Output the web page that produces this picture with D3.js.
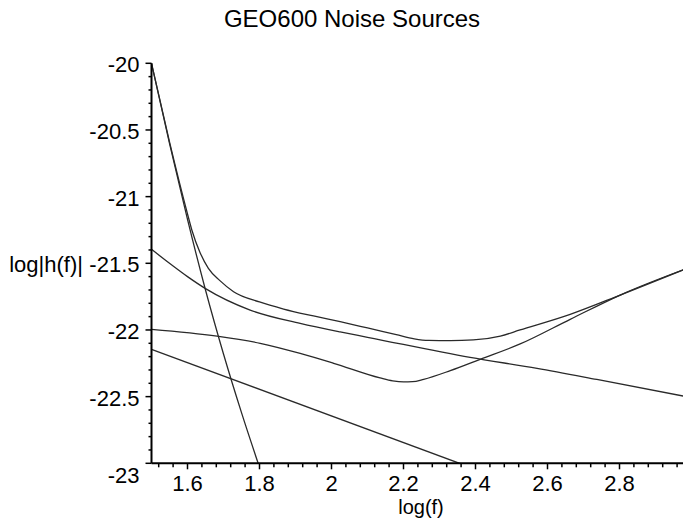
<!DOCTYPE html>
<html>
<head>
<meta charset="utf-8">
<script src="https://cdn.jsdelivr.net/npm/d3@7"></script>
<style>
  html, body { margin: 0; padding: 0; background: #fff; }
  svg { display: block; }
  text { font-family: "Liberation Sans", Arial, sans-serif; fill: #000; }
</style>
</head>
<body>
<svg id="chart" width="683" height="519"></svg>
<script>
// ---- data ----
const title = "GEO600 Noise Sources";
const xLabel = "log(f)";
const yLabel = "log|h(f)|";

const xTickValues = [1.6, 1.8, 2.0, 2.2, 2.4, 2.6, 2.8];
const xTickLabels = ["1.6", "1.8", "2", "2.2", "2.4", "2.6", "2.8"];
const yTickValues = [-20, -20.5, -21, -21.5, -22, -22.5, -23];
const yTickLabels = ["-20", "-20.5", "-21", "-21.5", "-22", "-22.5", "-23"];

// seismic noise (steep)
const seismic = [[1.5,-20.0],[1.55,-20.6],[1.6,-21.17],[1.65,-21.7],[1.7,-22.18],[1.75,-22.62],[1.8,-23.03]];
// thermal noise
const thermal = [[1.5,-21.395],[1.55,-21.50],[1.6,-21.60],[1.649,-21.688],[1.774,-21.851],[1.913,-21.951],
                 [2.024,-22.015],[2.1,-22.055],[2.385,-22.206],[2.571,-22.288],[2.737,-22.371],[2.98,-22.497]];
// shot noise
const shot = [[1.5,-21.995],[1.682,-22.046],[1.802,-22.1],[1.913,-22.176],[2.006,-22.25],[2.135,-22.36],
              [2.17,-22.382],[2.2,-22.39],[2.225,-22.388],[2.256,-22.37],[2.33,-22.305],[2.413,-22.22],
              [2.524,-22.105],[2.663,-21.92],[2.802,-21.738],[2.98,-21.546]];
// straight f^-1 line
const lowLine = [[1.5,-22.145],[2.36,-23.005]];
// total noise
const total = [[1.5,-20.0],[1.55,-20.59],[1.6,-21.13],[1.612,-21.25],[1.635,-21.42],[1.658,-21.538],[1.69,-21.63],
               [1.728,-21.713],[1.8,-21.79],[1.867,-21.843],[1.95,-21.895],[2.024,-21.938],[2.1,-21.985],
               [2.18,-22.035],[2.23,-22.066],[2.27,-22.078],[2.33,-22.08],[2.394,-22.075],[2.469,-22.046],
               [2.524,-22.0],[2.663,-21.883],[2.802,-21.738],[2.98,-21.546]];

const series = [seismic, thermal, shot, lowLine, total];

// ---- layout ----
const svg = d3.select("#chart");
const x = d3.scaleLinear().domain([1.5, 3.0]).range([151.5, 691.5]);
const y = d3.scaleLinear().domain([-23, -20]).range([463.3, 63.3]);

svg.append("defs").append("clipPath").attr("id", "plotClip")
  .append("rect").attr("x", x(1.5)).attr("y", y(-20) - 2)
  .attr("width", 700).attr("height", y(-23) - y(-20) + 2);

// curves
const line = d3.line().x(d => x(d[0])).y(d => y(d[1])).curve(d3.curveMonotoneX);
svg.append("g").attr("clip-path", "url(#plotClip)")
  .selectAll("path").data(series).join("path")
  .attr("d", line)
  .attr("fill", "none")
  .attr("stroke", "#2a2a2a")
  .attr("stroke-width", 1.3);

// x axis
const xMinor = d3.range(1.52, 3.0, 0.04).filter(v => !xTickValues.some(t => Math.abs(t - v) < 1e-6));
const xg = svg.append("g").attr("transform", `translate(0,${y(-23)})`);
xg.append("line").attr("x1", x(1.5)).attr("x2", x(3.0)).attr("stroke", "#000").attr("stroke-width", 2);
xg.selectAll("line.minor").data(xMinor).join("line").attr("class", "minor")
  .attr("x1", d => x(d)).attr("x2", d => x(d)).attr("y1", 0).attr("y2", 4)
  .attr("stroke", "#000").attr("stroke-width", 1.5);
xg.selectAll("line.major").data(xTickValues).join("line").attr("class", "major")
  .attr("x1", d => x(d)).attr("x2", d => x(d)).attr("y1", 0).attr("y2", 6)
  .attr("stroke", "#000").attr("stroke-width", 1.5);
xg.selectAll("text").data(xTickValues).join("text")
  .attr("x", d => x(d)).attr("y", 28)
  .attr("text-anchor", "middle").attr("font-size", 22)
  .text((d, i) => xTickLabels[i]);

// y axis
const yMinor = d3.range(-22.9, -20.0, 0.1).filter(v => !yTickValues.some(t => Math.abs(t - v) < 1e-6));
const yg = svg.append("g").attr("transform", `translate(${x(1.5)},0)`);
yg.append("line").attr("y1", y(-23)).attr("y2", y(-20)).attr("stroke", "#000").attr("stroke-width", 2);
yg.selectAll("line.minor").data(yMinor).join("line").attr("class", "minor")
  .attr("y1", d => y(d)).attr("y2", d => y(d)).attr("x1", 0).attr("x2", -3)
  .attr("stroke", "#000").attr("stroke-width", 1.5);
yg.selectAll("line.major").data(yTickValues).join("line").attr("class", "major")
  .attr("y1", d => y(d)).attr("y2", d => y(d)).attr("x1", 0).attr("x2", -6)
  .attr("stroke", "#000").attr("stroke-width", 1.5);
yg.selectAll("text").data(yTickValues).join("text")
  .attr("x", -12).attr("y", d => y(d) + (d === -23 ? 20 : 9))
  .attr("text-anchor", "end").attr("font-size", 22)
  .text((d, i) => yTickLabels[i]);

// labels
svg.append("text").attr("x", 352).attr("y", 26.5).attr("text-anchor", "middle")
  .attr("font-size", 24).text(title);
svg.append("text").attr("x", 421).attr("y", 514).attr("text-anchor", "middle")
  .attr("font-size", 20).text(xLabel);
svg.append("text").attr("x", 83).attr("y", y(-21.5) + 9).attr("text-anchor", "end")
  .attr("font-size", 22).text(yLabel);
</script>
</body>
</html>
